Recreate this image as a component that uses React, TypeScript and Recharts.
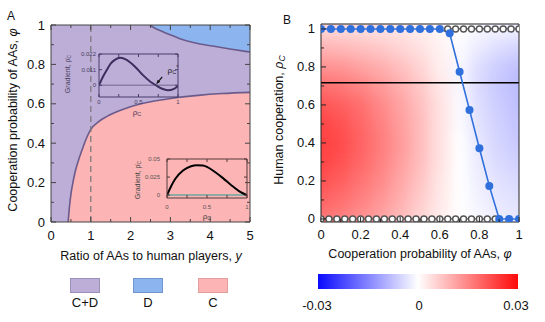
import React from 'react';
import { ComposedChart, Line, Area, XAxis, YAxis, Scatter, ReferenceLine } from 'recharts';

const FONT = '"Liberation Sans", Arial, Helvetica, sans-serif';

// ---------- Panel A: phase diagram ----------
const lowerX = [0.43, 0.46, 0.5, 0.55, 0.62, 0.7, 0.78, 0.88, 1.0, 1.2, 1.4, 1.7, 2.0, 2.5, 3.0, 3.7, 4.3, 5.0];
const lowerPhi = [0, 0.07, 0.14, 0.2, 0.265, 0.32, 0.365, 0.42, 0.47, 0.51, 0.535, 0.563, 0.585, 0.61, 0.627, 0.643, 0.652, 0.658];
const upperX = [2.48, 2.6, 2.81, 3.0, 3.22, 3.6, 4.06, 4.5, 4.93, 5.0];
const upperPhi = [1.0, 0.985, 0.966, 0.95, 0.932, 0.91, 0.893, 0.878, 0.865, 0.863];
const dashedRatio = 1;
const aXTicks = [0, 0.5, 1, 1.5, 2, 2.5, 3, 3.5, 4, 4.5, 5];
const aXMajor = [0, 1, 2, 3, 4, 5];
const aYTicks = [0, 0.1, 0.2, 0.3, 0.4, 0.5, 0.6, 0.7, 0.8, 0.9, 1];
const aYMajor = [0, 0.2, 0.4, 0.6, 0.8, 1];
const legendItems = ['C+D', 'D', 'C'];

// ---------- Insets ----------
const in1Rho = [0, 0.05, 0.1, 0.15, 0.2, 0.27, 0.35, 0.45, 0.55, 0.65, 0.72, 0.8, 0.87, 0.95, 1];
const in1Grad = [0, 0.006, 0.011, 0.0155, 0.018, 0.0195, 0.018, 0.0135, 0.0075, 0.0025, 0, -0.0025, -0.0035, -0.0025, -0.0005];
const in1YTicks = [0, 0.011, 0.022];
const in1Arrow = [{ x: 0.8, y: 0.0059 }, { x: 0.73, y: 0.0012 }];
const in2Rho = [0, 0.05, 0.1, 0.2, 0.3, 0.37, 0.45, 0.5, 0.6, 0.7, 0.8, 0.9, 1];
const in2Grad = [0, 0.012, 0.022, 0.034, 0.04, 0.0415, 0.041, 0.039, 0.032, 0.0235, 0.014, 0.0055, 0];
const in2YTicks = [0, 0.025, 0.05];
const inXTicks = [0, 0.25, 0.5, 0.75, 1];
const inXMajor = [0, 0.5, 1];

// ---------- Panel B ----------
const blueX = [0, 0.05, 0.1, 0.15, 0.2, 0.25, 0.3, 0.35, 0.4, 0.45, 0.5, 0.55, 0.6, 0.65, 0.7, 0.75, 0.8, 0.85, 0.9, 0.95, 1];
const blueRho = [1, 1, 1, 1, 1, 1, 1, 1, 1, 1, 1, 1, 1, 0.977, 0.775, 0.574, 0.372, 0.174, 0, 0, 0];
const openTopX = [0.64, 0.68, 0.72, 0.76, 0.8, 0.84, 0.88, 0.92, 0.96, 1];
const openTopRho = 1;
const openBotX = [0, 0.04, 0.08, 0.12, 0.16, 0.2, 0.24, 0.28, 0.32, 0.36, 0.4, 0.44, 0.48, 0.52, 0.56, 0.6, 0.64, 0.68, 0.72, 0.76, 0.8, 0.84, 0.88];
const openBotRho = 0;
const thresholdRho = 0.717;
const bTicks = [0, 0.1, 0.2, 0.3, 0.4, 0.5, 0.6, 0.7, 0.8, 0.9, 1];
const bMajor = [0, 0.2, 0.4, 0.6, 0.8, 1];
const heatPhi = [0, 0.1, 0.2, 0.3, 0.4, 0.5, 0.6, 0.7, 0.8, 0.9, 1];
const heatRho = [1, 0.9, 0.8, 0.7, 0.6, 0.5, 0.4, 0.3, 0.2, 0.1, 0];
const heatRows = [
  [0.005, 0.0045, 0.004, 0.0035, 0.003, 0.002, 0.001, 0, -0.001, -0.0015, -0.002],
  [0.009, 0.0085, 0.0075, 0.0065, 0.005, 0.0035, 0.0015, -0.0005, -0.0025, -0.004, -0.005],
  [0.013, 0.0125, 0.011, 0.0095, 0.0075, 0.005, 0.002, -0.001, -0.004, -0.006, -0.0075],
  [0.017, 0.016, 0.0145, 0.012, 0.0095, 0.0065, 0.003, -0.001, -0.0045, -0.0065, -0.008],
  [0.02, 0.019, 0.017, 0.014, 0.011, 0.0075, 0.0035, -0.0005, -0.004, -0.006, -0.0075],
  [0.022, 0.0205, 0.018, 0.015, 0.0115, 0.008, 0.0035, -0.0005, -0.0035, -0.0055, -0.007],
  [0.0225, 0.021, 0.0185, 0.0155, 0.012, 0.008, 0.0035, 0, -0.003, -0.005, -0.0065],
  [0.022, 0.0205, 0.018, 0.015, 0.0115, 0.0078, 0.0035, 0, -0.0025, -0.0045, -0.0055],
  [0.0205, 0.019, 0.0165, 0.014, 0.0105, 0.007, 0.003, 0, -0.002, -0.0035, -0.0045],
  [0.0185, 0.017, 0.015, 0.0125, 0.0095, 0.006, 0.0028, 0, -0.0015, -0.003, -0.0035],
  [0.016, 0.015, 0.013, 0.011, 0.008, 0.005, 0.0022, 0, -0.001, -0.002, -0.003],
];
const colorbarLabels = ['-0.03', '0', '0.03'];
const heatMax = 0.03;

// ---------- derived tables ----------
const allAX = Array.from(new Set([0, ...lowerX, ...upperX, 5])).sort((a, b) => a - b);
const dataA = allAX.map((x) => {
  const i = lowerX.indexOf(x);
  const j = upperX.indexOf(x);
  return { x, bg: 1, lo: i >= 0 ? lowerPhi[i] : undefined, hi: j >= 0 ? upperPhi[j] : undefined };
});
const dataIn1 = in1Rho.map((x, i) => ({ x, y: in1Grad[i] }));
const dataIn2 = in2Rho.map((x, i) => ({ x, y: in2Grad[i] }));
const blueData = blueX.map((x, i) => ({ x, y: blueRho[i] }));
const openTop = openTopX.map((x) => ({ x, y: openTopRho }));
const openBot = openBotX.map((x) => ({ x, y: openBotRho }));
const heatCells = heatRho.flatMap((r, i) => heatPhi.map((p, j) => ({ x: p, y: r, v: heatRows[i][j] })));

const PURPLE = '#bcaed7';
const BLUEREG = '#8cb4ef';
const PINK = '#fcb4b4';
const EDGE = '#6a5b8c';
const BLUE = '#2f70dc';

function heatColor(v: number) {
  const t = Math.min(Math.abs(v) / heatMax, 1);
  const c = Math.round(255 * (1 - t));
  return v >= 0 ? `rgb(255,${c},${c})` : `rgb(${c},${c},255)`;
}

const fmtNum = (v: number) => String(Math.round(v * 1000) / 1000);

function AxisTick(p: any) {
  const { x, y, payload, side, majors, labels, len, minor, fs = 13, gap = 5, color = '#333', tcolor = '#111', fmt = fmtNum } = p;
  const v = payload.value;
  const isMajor = majors.some((m: number) => Math.abs(m - v) < 1e-9);
  const L = isMajor ? len : minor;
  let x2 = x, y2 = y;
  if (side === 'bottom') y2 = y - L;
  else if (side === 'top') y2 = y + L;
  else if (side === 'left') x2 = x + L;
  else x2 = x - L;
  let txt = null;
  if (labels && isMajor) {
    if (side === 'bottom')
      txt = <text x={x} y={y + gap} textAnchor="middle" dominantBaseline="central" fontSize={fs} fill={tcolor} fontFamily={FONT}>{fmt(v)}</text>;
    else if (side === 'left')
      txt = <text x={x - gap} y={y} textAnchor="end" dominantBaseline="central" fontSize={fs} fill={tcolor} fontFamily={FONT}>{fmt(v)}</text>;
  }
  return (
    <g>
      {L > 0 && <line x1={x} y1={y} x2={x2} y2={y2} stroke={color} strokeWidth={1} />}
      {txt}
    </g>
  );
}

const tk = (o: any) => (props: any) => <AxisTick {...props} {...o} />;

function HeatCell(p: any) {
  const { cx, cy, payload } = p;
  const w = 19.8, h = 19;
  const ext = 30;
  const l = payload.x === 0 ? ext : 0;
  const r = payload.x === 1 ? ext : 0;
  const t = payload.y === 1 ? ext : 0;
  const b = payload.y === 0 ? ext : 0;
  return <rect x={cx - w / 2 - l} y={cy - h / 2 - t} width={w + l + r + 0.6} height={h + t + b + 0.6} fill={heatColor(payload.v)} />;
}

function ArrowShape(p: any) {
  const { x1, y1, x2, y2 } = p;
  const ang = Math.atan2(y2 - y1, x2 - x1);
  const s = 4;
  const ax = x2 - s * Math.cos(ang - 0.45), ay = y2 - s * Math.sin(ang - 0.45);
  const bx = x2 - s * Math.cos(ang + 0.45), by = y2 - s * Math.sin(ang + 0.45);
  return (
    <g>
      <line x1={x1} y1={y1} x2={x2} y2={y2} stroke="#111" strokeWidth={1.2} />
      <polygon points={`${x2},${y2} ${ax},${ay} ${bx},${by}`} fill="#111" />
    </g>
  );
}

// Four framing axes (ticks drawn inward), each 1px thick so they render.
function frameAxes(o: any) {
  const { xd, yd, xt, xm, yt, ym, col, tcol, xfs, yfs, xgap, ygap, len, minor, xTop, yRight, yDataKey } = o;
  return [
    <XAxis key="xb" dataKey="x" type="number" domain={xd} allowDataOverflow ticks={xt} interval={0} height={1} tickSize={0} tickMargin={0} tickLine={false} axisLine={{ stroke: col }}
      tick={tk({ side: 'bottom', majors: xm, labels: true, len, minor, gap: xgap, fs: xfs, color: col, tcolor: tcol })} />,
    <XAxis key="xt" xAxisId="top" orientation="top" dataKey="x" type="number" domain={xd} allowDataOverflow ticks={xt} interval={0} height={1} tickSize={0} tickMargin={0} tickLine={false} axisLine={{ stroke: col }}
      tick={xTop ? tk({ side: 'top', majors: xm, labels: false, len, minor, color: col }) : false} />,
    <YAxis key="yl" dataKey={yDataKey} type="number" domain={yd} allowDataOverflow ticks={yt} interval={0} width={1} tickSize={0} tickMargin={0} tickLine={false} axisLine={{ stroke: col }}
      tick={tk({ side: 'left', majors: ym, labels: true, len, minor, gap: ygap, fs: yfs, color: col, tcolor: tcol })} />,
    <YAxis key="yr" yAxisId="right" orientation="right" type="number" domain={yd} allowDataOverflow ticks={yt} interval={0} width={1} tickSize={0} tickMargin={0} tickLine={false} axisLine={{ stroke: col }}
      tick={yRight ? tk({ side: 'right', majors: ym, labels: false, len, minor, color: col }) : false} />,
  ];
}

function PanelA() {
  return (
    <ComposedChart width={270} height={260} data={dataA} margin={{ top: 24, right: 19, bottom: 37, left: 50 }}>
      {frameAxes({ xd: [0, 5], yd: [0, 1], xt: aXTicks, xm: aXMajor, yt: aYTicks, ym: aYMajor, col: '#444', tcol: '#111', xfs: 13, yfs: 13, xgap: 13, ygap: 6, len: 5, minor: 3, xTop: true, yRight: true })}
      <Area dataKey="bg" type="linear" baseValue={0} fill={PURPLE} fillOpacity={1} stroke="none" isAnimationActive={false} connectNulls />
      <Area dataKey="lo" type="monotone" baseValue={0} fill={PINK} fillOpacity={1} stroke="none" isAnimationActive={false} connectNulls />
      <Area dataKey="hi" type="monotone" baseValue={1} fill={BLUEREG} fillOpacity={1} stroke="none" isAnimationActive={false} connectNulls />
      <Line dataKey="lo" type="monotone" stroke={EDGE} strokeWidth={1.6} dot={false} isAnimationActive={false} connectNulls />
      <Line dataKey="hi" type="monotone" stroke={EDGE} strokeWidth={1.6} dot={false} isAnimationActive={false} connectNulls />
      <ReferenceLine x={dashedRatio} stroke="#777" strokeWidth={1.2} strokeDasharray="6 4" />
    </ComposedChart>
  );
}

function Inset1() {
  return (
    <ComposedChart width={130} height={80} data={dataIn1} margin={{ top: 13, right: 11, bottom: 22, left: 38 }}>
      {frameAxes({ xd: [0, 1], yd: [-0.0083, 0.0221], xt: inXTicks, xm: inXMajor, yt: in1YTicks, ym: in1YTicks, col: '#4a3d6a', tcol: '#4a4060', xfs: 6, yfs: 6, xgap: 5, ygap: 3, len: 3, minor: 3, xTop: true, yRight: true })}
      <ReferenceLine y={0} stroke="#8a7ea8" strokeWidth={1.5} />
      <Line dataKey="y" type="monotone" stroke="#3c2e5e" strokeWidth={2} dot={false} isAnimationActive={false} />
      <ReferenceLine segment={in1Arrow} shape={ArrowShape} />
    </ComposedChart>
  );
}

function Inset2() {
  return (
    <ComposedChart width={135} height={80} data={dataIn2} margin={{ top: 13, right: 12, bottom: 26, left: 41 }}>
      {frameAxes({ xd: [0, 1], yd: [-0.004, 0.05], xt: inXTicks, xm: inXMajor, yt: in2YTicks, ym: in2YTicks, col: '#553a3a', tcol: '#555', xfs: 6, yfs: 6, xgap: 9, ygap: 7, len: 3, minor: 3, xTop: true, yRight: true })}
      <ReferenceLine y={0} stroke="#8fa9a4" strokeWidth={2} />
      <Line dataKey="y" type="monotone" stroke="#000" strokeWidth={2} dot={false} isAnimationActive={false} />
    </ComposedChart>
  );
}

function PanelBHeat() {
  return (
    <ComposedChart width={275} height={260} margin={{ top: 24, right: 26, bottom: 38, left: 51 }}>
      <XAxis dataKey="x" type="number" domain={[0, 1]} allowDataOverflow hide />
      <YAxis dataKey="y" type="number" domain={[-0.016, 1.026]} allowDataOverflow hide />
      <Scatter data={heatCells} dataKey="y" shape={HeatCell} isAnimationActive={false} />
    </ComposedChart>
  );
}

function PanelB() {
  return (
    <ComposedChart width={275} height={260} margin={{ top: 23, right: 25, bottom: 37, left: 50 }}>
      {frameAxes({ xd: [0, 1], yd: [-0.016, 1.026], xt: bTicks, xm: bMajor, yt: bTicks, ym: bMajor, col: '#222', tcol: '#111', xfs: 13, yfs: 13, xgap: 12.5, ygap: 6, len: 5, minor: 3, xTop: false, yRight: false, yDataKey: 'y' })}
      <ReferenceLine y={thresholdRho} stroke="#000" strokeWidth={1.6} />
      <Line data={openBot} dataKey="y" type="linear" stroke="#555" strokeWidth={1.2} dot={{ r: 3, fill: '#fff', stroke: '#555', strokeWidth: 1.4 }} isAnimationActive={false} />
      <Line data={openTop} dataKey="y" type="linear" stroke="#555" strokeWidth={1.2} dot={{ r: 3, fill: '#fff', stroke: '#555', strokeWidth: 1.4 }} isAnimationActive={false} />
      <Line data={blueData} dataKey="y" type="linear" stroke={BLUE} strokeWidth={1.6} dot={{ r: 4, fill: BLUE, stroke: BLUE, strokeWidth: 0 }} isAnimationActive={false} />
    </ComposedChart>
  );
}

function T({ x, y, children, fs = 13, rot = 0, color = '#111', style = {} }: any) {
  return (
    <div style={{ position: 'absolute', left: x, top: y, transform: `translate(-50%,-50%) rotate(${rot}deg)`, fontSize: fs, color, whiteSpace: 'nowrap', lineHeight: 1, fontFamily: FONT, ...style }}>
      {children}
    </div>
  );
}

const css = `.heatB .recharts-scatter { filter: url(#hblur); clip-path: url(#hclip); }
sub { font-size: 0.7em; vertical-align: -0.25em; line-height: 0; }`;

export default function App() {
  const swatchColors = [[PURPLE, '#9b8fbc'], [BLUEREG, '#6f96cf'], [PINK, '#e29d9d']];
  const swX = [70, 133, 198];
  return (
    <div style={{ position: 'absolute', left: 0, top: 0, width: 545, height: 322, background: '#fff', overflow: 'hidden', fontFamily: FONT }}>
      <style>{css}</style>
      <svg width={0} height={0} style={{ position: 'absolute' }}>
        <defs>
          <filter id="hblur" x="-20%" y="-20%" width="140%" height="140%">
            <feGaussianBlur stdDeviation="7" />
          </filter>
          <clipPath id="hclip">
            <rect x={51} y={24} width={198} height={198} />
          </clipPath>
        </defs>
      </svg>
      <div style={{ position: 'absolute', left: 0, top: 0 }}><PanelA /></div>
      <div style={{ position: 'absolute', left: 60, top: 40 }}><Inset1 /></div>
      <div style={{ position: 'absolute', left: 125, top: 145 }}><Inset2 /></div>
      <div className="heatB" style={{ position: 'absolute', left: 270, top: 0 }}><PanelBHeat /></div>
      <div style={{ position: 'absolute', left: 270, top: 0 }}><PanelB /></div>

      <T x={11} y={16} fs={12}>A</T>
      <T x={13} y={120} fs={12.5} rot={-90}>Cooperation probability of AAs, <i>φ</i></T>
      <T x={151} y={256} fs={12.5}>Ratio of AAs to human players, <i>y</i></T>
      <T x={67} y={74} fs={7} rot={-90} color="#4a4060">Gradient, ρ̇<sub>C</sub></T>
      <T x={137} y={113} fs={8} color="#4a4060">ρ<sub>C</sub></T>
      <T x={173} y={70} fs={8} color="#222">ρ<sub>C</sub><sup style={{ fontSize: '0.7em' }}>*</sup></T>
      <T x={137} y={180} fs={7} rot={-90} color="#444">Gradient, ρ̇<sub>C</sub></T>
      <T x={207} y={217} fs={8} color="#444">ρ<sub>C</sub></T>

      {legendItems.map((name, i) => (
        <React.Fragment key={name}>
          <div style={{ position: 'absolute', left: swX[i], top: 278, width: 28, height: 13, background: swatchColors[i][0], border: `1px solid ${swatchColors[i][1]}` }} />
          <T x={swX[i] + 15} y={302} fs={13}>{name}</T>
        </React.Fragment>
      ))}

      <T x={287} y={20} fs={12}>B</T>
      <T x={279} y={120} fs={12.5} rot={-90}>Human cooperation, <i>ρ</i><sub><i>C</i></sub></T>
      <T x={420} y={254} fs={12.5}>Cooperation probability of AAs, <i>φ</i></T>
      <div style={{ position: 'absolute', left: 318, top: 274, width: 200, height: 15, background: 'linear-gradient(to right, #0a0aff, #ffffff 50%, #ff0a0a)' }} />
      <T x={317} y={305} fs={13}>{colorbarLabels[0]}</T>
      <T x={419} y={305} fs={13}>{colorbarLabels[1]}</T>
      <T x={516} y={305} fs={13}>{colorbarLabels[2]}</T>
    </div>
  );
}
